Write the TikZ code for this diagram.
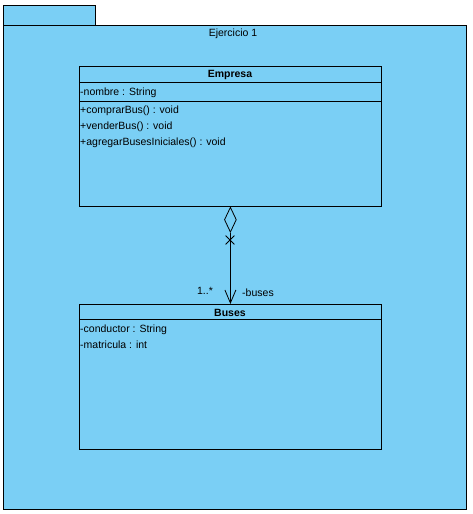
\documentclass[tikz,border=0pt]{standalone}
\usepackage{fontspec}
\setmainfont{Liberation Sans}
\usetikzlibrary{positioning,arrows.meta,shapes.geometric,shapes.misc}
\definecolor{pkgblue}{RGB}{122,207,245}

\begin{document}
\begin{tikzpicture}[x=1pt, y=-1pt,
    pkg/.style={draw, fill=pkgblue, line width=1pt, inner sep=0pt, anchor=north west},
    cls/.style={draw, fill=pkgblue, line width=0.8pt, minimum width=302pt, inner sep=0pt, anchor=north west},
    member/.style={anchor=west, inner sep=0pt, font=\fontsize{10.5}{12}\selectfont},
    title/.style={inner sep=0pt, font=\bfseries\fontsize{10.5}{12}\selectfont},
    sep/.style={line width=0.8pt},
    assoc/.style={line width=0.8pt, -{Straight Barb[length=13pt, width=11pt]}}
]
\useasboundingbox (0,0) rectangle (473,514);

% package
\node[pkg, minimum width=92pt, minimum height=20pt] (tab) at (3,5) {};
\node[pkg, minimum width=463pt, minimum height=484pt] (ejercicio) at (3,25) {};
\node[member, anchor=center] (pkgname) at (233,34) {Ejercicio 1};

% class Empresa
\node[cls, minimum height=140pt] (empresa) at (79,66) {};
\node[title] (empresaname) at (230,74.5) {Empresa};
\draw[sep] ([yshift=-16pt]empresa.north west) -- ([yshift=-16pt]empresa.north east);
\node[member] (nombre) at (80,92.5) {-nombre : String};
\draw[sep] ([yshift=-35pt]empresa.north west) -- ([yshift=-35pt]empresa.north east);
\node[member] (comprar) at (80,110.5) {+comprarBus() : void};
\node[member] (vender) at (80,126.5) {+venderBus() : void};
\node[member] (agregar) at (80,142.5) {+agregarBusesIniciales() : void};

% class Buses
\node[cls, minimum height=145pt] (buses) at (79,304) {};
\node[title] (busesname) at (230,312.5) {Buses};
\draw[sep] ([yshift=-15pt]buses.north west) -- ([yshift=-15pt]buses.north east);
\node[member] (conductor) at (80,330) {-conductor : String};
\node[member] (matricula) at (80,345) {-matricula : int};

% aggregation
\node[diamond, draw, fill=pkgblue, line width=0.8pt, inner sep=0pt,
      minimum width=12pt, minimum height=25pt, anchor=north] (agg) at (empresa.south) {};
\draw[assoc] (agg.south) -- (buses.north);
\node[cross out, draw, line width=0.8pt, inner sep=0pt, minimum size=8pt] (nav) at (230,240) {};
\node[member, anchor=center] (mult) at (205,291) {1..*};
\node[member, anchor=center] (role) at (258,293) {-buses};

\end{tikzpicture}
\end{document}
